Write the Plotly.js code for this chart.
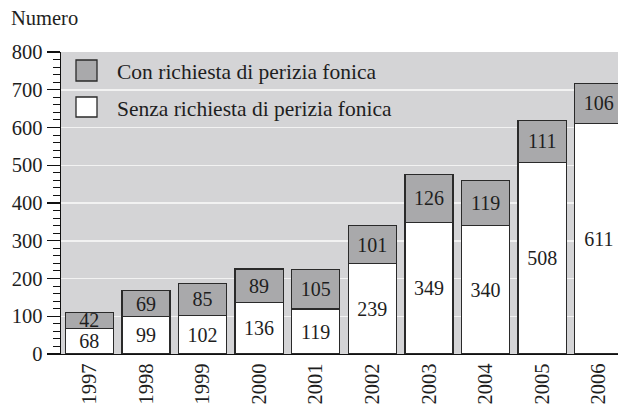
<!DOCTYPE html>
<html>
<head>
<meta charset="utf-8">
<script src="https://cdn.plot.ly/plotly-3.0.1.min.js"></script>
<style>html,body{margin:0;padding:0;background:#fff;}#chart{width:618px;height:410px;}</style>
</head>
<body>
<div id="chart"></div>
<script>
const years = ["1997","1998","1999","2000","2001","2002","2003","2004","2005","2006"];
const senza = [68, 99, 102, 136, 119, 239, 349, 340, 508, 611];
const con = [42, 69, 85, 89, 105, 101, 126, 119, 111, 106];
const nameCon = "Con richiesta di perizia fonica";
const nameSenza = "Senza richiesta di perizia fonica";
const yTitle = "Numero";

const FONT = "Liberation Serif, Times New Roman, serif";
const TXT = "#1e1e1e";
const GRAY = "#a9a9ab";
const BG = "#d4d4d6";
const EDGE = "#2a2a2a";

const common = {
  type: "bar",
  x: years,
  texttemplate: "%{y}",
  textposition: "inside",
  insidetextanchor: "middle",
  textangle: 0,
  constraintext: "none",
  insidetextfont: {family: FONT, size: 20, color: TXT},
  hoverinfo: "skip",
  showlegend: false
};

const traces = [
  Object.assign({}, common, {y: senza, name: nameSenza, marker: {color: "#ffffff", line: {color: EDGE, width: 1.3}}}),
  Object.assign({}, common, {y: con, name: nameCon, marker: {color: GRAY, line: {color: EDGE, width: 1.3}}})
];

const layout = {
  width: 618, height: 410,
  margin: {l: 61, r: 0, t: 52, b: 56},
  paper_bgcolor: "#ffffff",
  plot_bgcolor: BG,
  barmode: "stack",
  bargap: 0.15,
  font: {family: FONT, color: TXT},
  xaxis: {
    type: "category",
    range: [-0.5, 9.34],
    showline: true, linecolor: "#111", linewidth: 1.3,
    ticks: "", tickangle: -90,
    tickfont: {family: FONT, size: 20.5, color: TXT},
    showgrid: false, zeroline: false, fixedrange: true
  },
  yaxis: {
    range: [0, 800],
    dtick: 100, tick0: 0,
    showline: true, linecolor: "#111", linewidth: 1.3,
    ticks: "outside", ticklen: 13, tickwidth: 1.2, tickcolor: "#111",
    minor: {dtick: 20, ticks: "outside", ticklen: 7, tickwidth: 1, tickcolor: "#111", showgrid: false},
    tickfont: {family: FONT, size: 20.5, color: TXT},
    showgrid: true, gridcolor: "#f2f2f2", gridwidth: 1.5,
    zeroline: false, fixedrange: true
  },
  shapes: [
    {type: "rect", xref: "paper", yref: "paper", x0: 15/557, x1: 36/557, y0: 1 - 29/302, y1: 1 - 8/302, fillcolor: GRAY, line: {color: EDGE, width: 1.3}},
    {type: "rect", xref: "paper", yref: "paper", x0: 15/557, x1: 36/557, y0: 1 - 65/302, y1: 1 - 45/302, fillcolor: "#ffffff", line: {color: EDGE, width: 1.3}}
  ],
  annotations: [
    {text: nameCon, xref: "paper", yref: "paper", x: 54/557, y: 1 - 20/302, xanchor: "left", yanchor: "middle", showarrow: false, font: {family: FONT, size: 21.5, color: TXT}},
    {text: nameSenza, xref: "paper", yref: "paper", x: 54/557, y: 1 - 57/302, xanchor: "left", yanchor: "middle", showarrow: false, font: {family: FONT, size: 21.5, color: TXT}},
    {text: yTitle, xref: "paper", yref: "paper", x: -52/557, y: 1 + 34/302, xanchor: "left", yanchor: "middle", showarrow: false, font: {family: FONT, size: 20.5, color: TXT}}
  ]
};

Plotly.newPlot("chart", traces, layout, {displayModeBar: false, staticPlot: true});
</script>
</body>
</html>
